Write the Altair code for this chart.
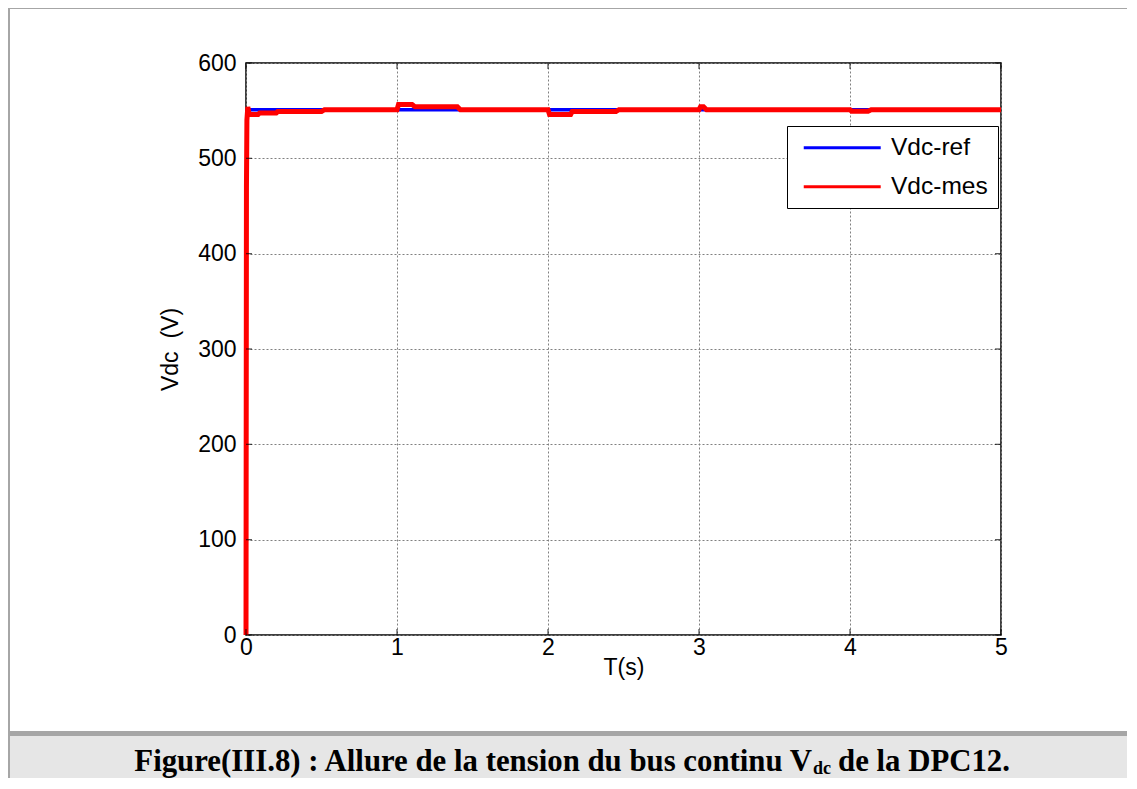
import altair as alt
import pandas as pd

# ---- data ----
t_ref = [0.0, 5.0]
v_ref = [551, 551]

t_mes = [0.0, 0.003, 0.006, 0.012, 0.02, 0.03, 0.08, 0.09, 0.2, 0.21,
         0.5, 0.52, 1.0, 1.01, 1.1, 1.12, 1.4, 1.42,
         2.0, 2.01, 2.15, 2.16, 2.45, 2.47,
         3.0, 3.01, 3.03, 3.05,
         4.0, 4.01, 4.12, 4.14, 5.0]
v_mes = [0, 470, 540, 554, 547, 546, 546, 547.5, 547.5, 549,
         549, 551, 551, 556.5, 556.5, 554, 554, 551,
         551, 546, 546, 549, 549, 551,
         551, 554, 554, 551,
         551, 549.5, 549.5, 551, 551]

series_names = ["Vdc-ref", "Vdc-mes"]
series_colors = ["#0000ff", "#ff0000"]

x_ticks = [0, 1, 2, 3, 4, 5]
y_ticks = [0, 100, 200, 300, 400, 500, 600]

caption_parts = ["Figure(III.8) : Allure de la tension du bus continu V", "dc", "de la DPC12."]

W, H = 755, 572

df_ref = pd.DataFrame({"t": t_ref, "v": v_ref, "s": series_names[0]})
df_mes = pd.DataFrame({"t": t_mes, "v": v_mes, "s": series_names[1]})
dummy = pd.DataFrame({"k": [0]})

xscale = alt.Scale(domain=[0, 5], nice=False, zero=False)
yscale = alt.Scale(domain=[0, 600], nice=False)
cscale = alt.Scale(domain=series_names, range=series_colors)

x_axis = alt.Axis(values=x_ticks, title="T(s)", grid=True, ticks=False, domain=False,
                  labelPadding=1, titlePadding=-2.5, format="d", labelFlush=False)
y_axis = alt.Axis(values=y_ticks, title="Vdc\u00a0\u00a0(V)", grid=True, ticks=False, domain=False,
                  labelPadding=10, titlePadding=15, format="d", labelFlush=False)

legend = alt.Legend(orient="none", legendX=541, legendY=63, title=None,
                    symbolType="M-0.65,0H9.35", symbolSize=237, symbolStrokeWidth=3,
                    labelFontSize=24.5, labelFont="Liberation Sans", labelColor="black",
                    strokeColor="black", fillColor="white", padding=9.5,
                    rowPadding=14, labelOffset=70)

# ---- figure frame (decoration) ----
def rect(x1, x2, y1, y2, color):
    return alt.Chart(dummy).mark_rect(color=color).encode(
        x=alt.value(x1), x2=alt.value(x2), y=alt.value(y1), y2=alt.value(y2))

frame = [
    rect(-236, 900, 673, 740, "#e6e6e6"),
    rect(-236, 900, 668, 673, "#a6a6a6"),
    rect(-240, -236, -57, 740, "#a6a6a6"),
    rect(-240, 900, -57, -54, "#a6a6a6"),
]

cap1 = alt.Chart(pd.DataFrame({"txt": [caption_parts[0]]})).mark_text(
    font="Liberation Serif", fontWeight="bold", fontSize=30.8, align="right",
    baseline="alphabetic", color="black").encode(
    x=alt.value(566), y=alt.value(708), text="txt:N")
cap2 = alt.Chart(pd.DataFrame({"txt": [caption_parts[1]]})).mark_text(
    font="Liberation Serif", fontWeight="bold", fontSize=18, align="left",
    baseline="alphabetic", color="black").encode(
    x=alt.value(567), y=alt.value(711), text="txt:N")
cap3 = alt.Chart(pd.DataFrame({"txt": [caption_parts[2]]})).mark_text(
    font="Liberation Serif", fontWeight="bold", fontSize=30.8, align="left",
    baseline="alphabetic", color="black").encode(
    x=alt.value(592), y=alt.value(708), text="txt:N")

# ---- data lines ----
line_ref = alt.Chart(df_ref).mark_line(strokeWidth=3.5).encode(
    x=alt.X("t:Q", scale=xscale, axis=x_axis),
    y=alt.Y("v:Q", scale=yscale, axis=y_axis),
    color=alt.Color("s:N", scale=cscale, legend=legend))
line_mes = alt.Chart(df_mes).mark_line(strokeWidth=5).encode(
    x=alt.X("t:Q", scale=xscale),
    y=alt.Y("v:Q", scale=yscale),
    color=alt.Color("s:N", scale=cscale, legend=legend))

# ---- inward ticks on all four sides ----
xt = pd.DataFrame({"t": x_ticks})
yt = pd.DataFrame({"v": y_ticks})
tick_b = alt.Chart(xt).mark_tick(orient="vertical", size=6, thickness=1.2, color="black").encode(
    x=alt.X("t:Q", scale=xscale), y=alt.value(H - 3))
tick_t = alt.Chart(xt).mark_tick(orient="vertical", size=6, thickness=1.2, color="black").encode(
    x=alt.X("t:Q", scale=xscale), y=alt.value(3))
tick_l = alt.Chart(yt).mark_tick(orient="horizontal", size=6, thickness=1.2, color="black").encode(
    y=alt.Y("v:Q", scale=yscale), x=alt.value(3))
tick_r = alt.Chart(yt).mark_tick(orient="horizontal", size=6, thickness=1.2, color="black").encode(
    y=alt.Y("v:Q", scale=yscale), x=alt.value(W - 3))

chart = alt.layer(
    *frame, cap1, cap2, cap3, line_ref, line_mes, tick_b, tick_t, tick_l, tick_r
).properties(
    width=W, height=H,
    autosize=alt.AutoSizeParams(type="none"),
    padding={"left": 238, "top": 55, "right": 126, "bottom": 143},
    background="white",
).configure_view(
    stroke="black", strokeWidth=1.5, fill="white"
).configure_axis(
    labelFont="Liberation Sans", labelFontSize=23, labelColor="black",
    titleFont="Liberation Sans", titleFontSize=23, titleFontWeight="normal", titleColor="black",
    gridColor="#808080", gridDash=[2, 2], gridWidth=1, gridOpacity=1,
)

chart.save("out.html", embed_options={"renderer": "svg", "actions": False})
